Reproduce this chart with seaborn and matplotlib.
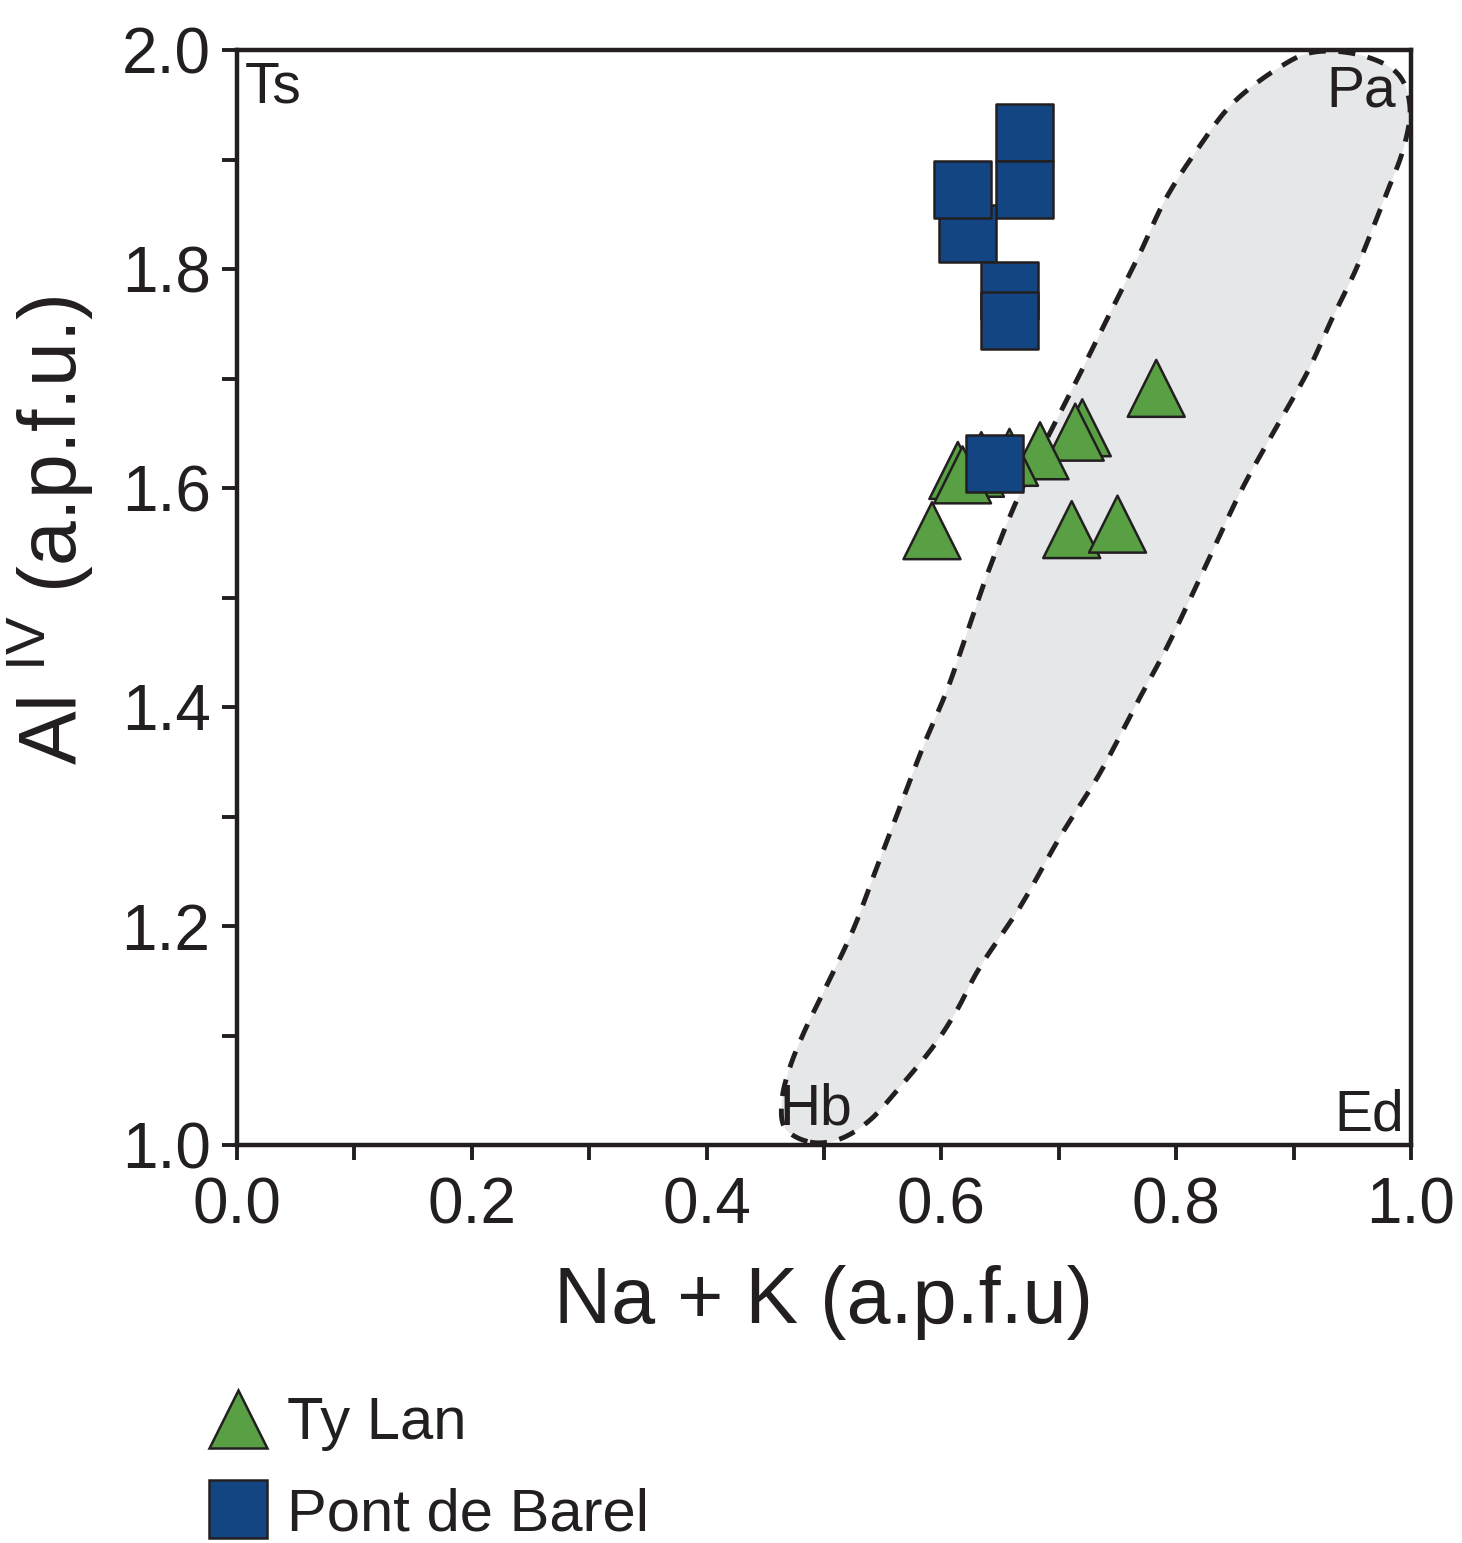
import numpy as np
import pandas as pd
import matplotlib
matplotlib.use("Agg")
import matplotlib.pyplot as plt
from matplotlib.lines import Line2D
import seaborn as sns

# ---------------- data ----------------
ty_lan_x = [0.592, 0.711, 0.750, 0.783, 0.720, 0.714, 0.684, 0.658, 0.634, 0.614, 0.629, 0.618]
ty_lan_y = [1.561, 1.562, 1.567, 1.691, 1.655, 1.651, 1.634, 1.628, 1.625, 1.616, 1.618, 1.612]

pont_x = [0.671, 0.671, 0.622, 0.618, 0.658, 0.658, 0.645]
pont_y = [1.925, 1.873, 1.832, 1.873, 1.780, 1.753, 1.622]

groups = ["Ty Lan", "Pont de Barel"]
colors = {"Ty Lan": "#58A043", "Pont de Barel": "#124582"}
markers = {"Ty Lan": "^", "Pont de Barel": "s"}

# field outline (gray dashed region), data coordinates
field_x = [0.4881, 0.5136, 0.5392, 0.5647, 0.5928, 0.6133, 0.6329, 0.6670, 0.7010, 0.7351,
           0.7666, 0.7922, 0.8203, 0.8543, 0.8825, 0.9114, 0.9310, 0.9540, 0.9779, 0.9932,
           0.9991, 0.9881, 0.9566, 0.9182, 0.8884, 0.8484, 0.8177, 0.7905, 0.7692, 0.7462,
           0.7240, 0.7010, 0.6670, 0.6414, 0.6218, 0.6048, 0.5843, 0.5647, 0.5451, 0.5247,
           0.4991, 0.4838, 0.4710, 0.4642, 0.4668]
field_y = [1.0027, 1.0055, 1.0228, 1.0530, 1.0895, 1.1233, 1.1626, 1.2174, 1.2813, 1.3397,
           1.4037, 1.4548, 1.5178, 1.5954, 1.6502, 1.7050, 1.7507, 1.8018, 1.8658, 1.9087,
           1.9479, 1.9790, 1.9954, 1.9982, 1.9845, 1.9516, 1.9087, 1.8630, 1.8146, 1.7653,
           1.7169, 1.6685, 1.5954, 1.5279, 1.4676, 1.4155, 1.3635, 1.3087, 1.2539, 1.1963,
           1.1388, 1.1050, 1.0712, 1.0411, 1.0155]

corner_labels = [("Ts", 0.007, 1.990, "left", "top"),
                 ("Pa", 0.987, 1.987, "right", "top"),
                 ("Hb", 0.462, 1.008, "left", "bottom"),
                 ("Ed", 0.994, 1.002, "right", "bottom")]

xticks = [0.0, 0.1, 0.2, 0.3, 0.4, 0.5, 0.6, 0.7, 0.8, 0.9, 1.0]
yticks = [1.0, 1.1, 1.2, 1.3, 1.4, 1.5, 1.6, 1.7, 1.8, 1.9, 2.0]

# ---------------- style ----------------
sns.set_theme(style="white")
plt.rcParams["font.family"] = ["Liberation Sans", "DejaVu Sans"]
plt.rcParams["mathtext.fontset"] = "custom"
plt.rcParams["mathtext.rm"] = "Liberation Sans"
plt.rcParams["mathtext.it"] = "Liberation Sans:italic"
plt.rcParams["mathtext.bf"] = "Liberation Sans:bold"

INK = "#231F20"

df = pd.DataFrame({
    "x": ty_lan_x + pont_x,
    "y": ty_lan_y + pont_y,
    "group": ["Ty Lan"] * len(ty_lan_x) + ["Pont de Barel"] * len(pont_x),
})

fig = plt.figure(figsize=(14.62, 15.43), dpi=100)
ax = fig.add_axes([237 / 1462, 398 / 1543, 1174 / 1462, 1095 / 1543])

# field region, smoothed closed curve (Catmull-Rom)
def closed_smooth(xs, ys, n=20):
    P = np.column_stack([xs, ys])
    m = len(P)
    out = []
    for i in range(m):
        p0, p1, p2, p3 = P[(i - 1) % m], P[i], P[(i + 1) % m], P[(i + 2) % m]
        t = np.linspace(0, 1, n, endpoint=False)[:, None]
        out.append(0.5 * ((2 * p1) + (-p0 + p2) * t + (2 * p0 - 5 * p1 + 4 * p2 - p3) * t ** 2
                          + (-p0 + 3 * p1 - 3 * p2 + p3) * t ** 3))
    out = np.vstack(out)
    return np.vstack([out, out[:1]])

curve = closed_smooth(field_x, field_y)
ax.fill(curve[:, 0], curve[:, 1], color="#E6E7E8", zorder=1, linewidth=0)
ax.plot(curve[:, 0], curve[:, 1], color=INK, linewidth=3.5,
        linestyle=(0, (3.5, 2.6)), zorder=2, clip_on=False)

sns.scatterplot(data=df, x="x", y="y", hue="group", style="group",
                palette=colors, markers=markers, s=41 ** 2,
                edgecolor=INK, linewidth=1.8, legend=False, ax=ax, zorder=3)

for txt, x, y, ha, va in corner_labels:
    ax.text(x, y, txt, ha=ha, va=va, fontsize=41, color=INK, zorder=4)

ax.set_xlim(0, 1)
ax.set_ylim(1, 2)
ax.set_xticks(xticks)
ax.set_yticks(yticks)
ax.set_xticklabels([f"{v:.1f}" if i % 2 == 0 else "" for i, v in enumerate(xticks)])
ax.set_yticklabels([f"{v:.1f}" if i % 2 == 0 else "" for i, v in enumerate(yticks)])
ax.tick_params(axis="both", direction="out", length=11, width=2.8, color=INK,
               labelsize=46, labelcolor=INK, bottom=True, left=True)
ax.tick_params(axis="x", pad=12)
ax.tick_params(axis="y", pad=8)
for sp in ax.spines.values():
    sp.set_visible(True)
    sp.set_color(INK)
    sp.set_linewidth(3.2)

ax.set_xlabel("Na + K (a.p.f.u)", fontsize=57, color=INK, labelpad=20)
ax.set_ylabel(r"Al $^{\mathrm{IV}}$ (a.p.f.u.)", fontsize=58, color=INK)
ax.yaxis.set_label_coords((95 - 237) / 1174, (1145 - 530) / 1095)

handles = [Line2D([], [], linestyle="none", marker=markers[g], markersize=42,
                  markerfacecolor=colors[g], markeredgecolor=INK, markeredgewidth=1.8)
           for g in groups]
fig.legend(handles, groups, loc="upper left", bbox_to_anchor=(208 / 1462, 0.095),
           frameon=False, fontsize=43, handlelength=1.0, handletextpad=0.32,
           labelspacing=0.6, borderpad=0, borderaxespad=0, labelcolor=INK)

fig.savefig("out.png", dpi=100)
